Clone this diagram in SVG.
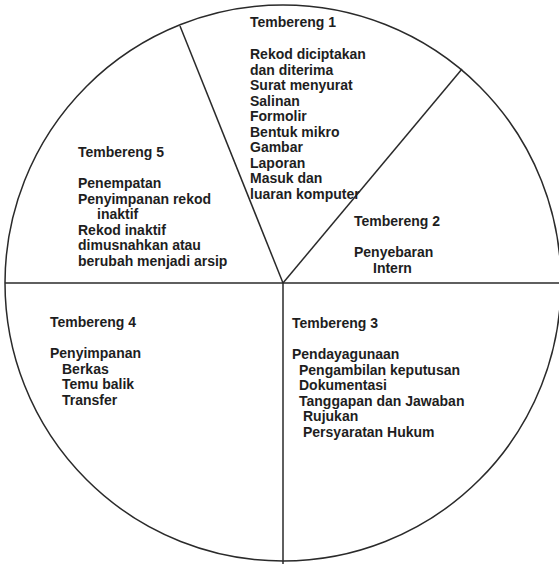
<svg xmlns="http://www.w3.org/2000/svg" width="559" height="564" viewBox="0 0 559 564">
<style>
.ln{fill:none;stroke:#2a2a2a;stroke-width:1.5}
text{font-family:"Liberation Sans",Arial,sans-serif;font-size:14px;font-weight:bold;fill:#1e1e1e}
</style>
<rect width="559" height="564" fill="#fff"/>
<g id="connectors">
<circle class="ln" cx="283" cy="283" r="278"/>
<line class="ln" x1="283" y1="283" x2="180" y2="26"/>
<line class="ln" x1="283" y1="283" x2="462" y2="69"/>
<line class="ln" x1="5" y1="283" x2="559" y2="283"/>
<line class="ln" x1="283" y1="283" x2="283" y2="564"/>
</g>
<g id="tembereng1">
<text x="250" y="27">Tembereng 1</text>
<text x="250" y="59">Rekod diciptakan</text>
<text x="250" y="74.5">dan diterima</text>
<text x="250" y="90">Surat menyurat</text>
<text x="250" y="105.5">Salinan</text>
<text x="250" y="121">Formolir</text>
<text x="250" y="136.5">Bentuk mikro</text>
<text x="250" y="152">Gambar</text>
<text x="250" y="167.5">Laporan</text>
<text x="250" y="183">Masuk dan</text>
<text x="250" y="198.5">luaran komputer</text>
</g>
<g id="tembereng2">
<text x="354" y="226">Tembereng 2</text>
<text x="354" y="257">Penyebaran</text>
<text x="373" y="272.5">Intern</text>
</g>
<g id="tembereng3">
<text x="292" y="328">Tembereng 3</text>
<text x="292" y="359">Pendayagunaan</text>
<text x="299" y="374.5">Pengambilan keputusan</text>
<text x="299" y="390">Dokumentasi</text>
<text x="299" y="405.5">Tanggapan dan Jawaban</text>
<text x="303" y="421">Rujukan</text>
<text x="303" y="436.5">Persyaratan Hukum</text>
</g>
<g id="tembereng4">
<text x="50" y="327">Tembereng 4</text>
<text x="50" y="358">Penyimpanan</text>
<text x="62" y="373.5">Berkas</text>
<text x="62" y="389">Temu balik</text>
<text x="62" y="404.5">Transfer</text>
</g>
<g id="tembereng5">
<text x="78" y="157">Tembereng 5</text>
<text x="78" y="188">Penempatan</text>
<text x="78" y="203.5">Penyimpanan rekod</text>
<text x="97" y="219">inaktif</text>
<text x="78" y="234.5">Rekod inaktif</text>
<text x="78" y="250">dimusnahkan atau</text>
<text x="78" y="265.5">berubah menjadi arsip</text>
</g>
</svg>
